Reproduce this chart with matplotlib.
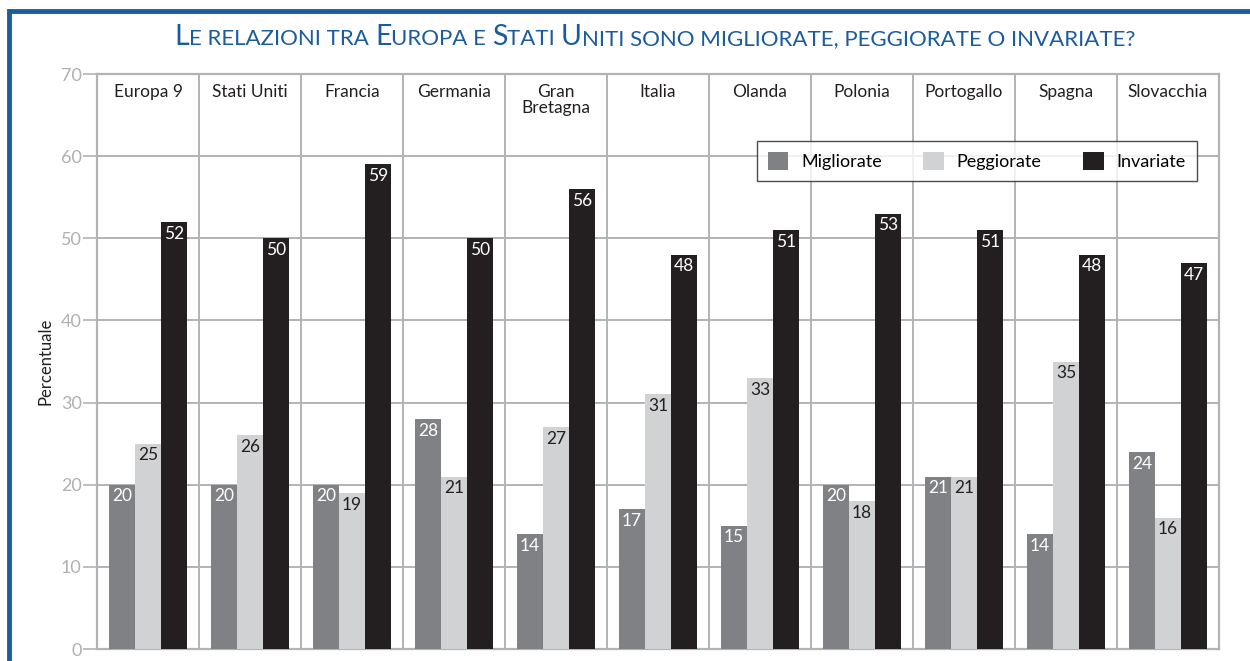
import matplotlib.pyplot as plt
import numpy as np
from matplotlib.patches import Rectangle, Patch

plt.rcParams['font.family'] = ['Lato', 'DejaVu Sans']

paesi = ["Europa 9", "Stati Uniti", "Francia", "Germania", "Gran\nBretagna",
         "Italia", "Olanda", "Polonia", "Portogallo", "Spagna", "Slovacchia"]
migliorate = [20, 20, 20, 28, 14, 17, 15, 20, 21, 14, 24]
peggiorate = [25, 26, 19, 21, 27, 31, 33, 18, 21, 35, 16]
invariate = [52, 50, 59, 50, 56, 48, 51, 53, 51, 48, 47]
serie = ["Migliorate", "Peggiorate", "Invariate"]
colori = ["#808184", "#d1d2d4", "#231f20"]
colori_testo = ["white", "#231f20", "white"]
yticks = [0, 10, 20, 30, 40, 50, 60, 70]

W, H = 1250, 661
fig = plt.figure(figsize=(12.5, 6.61), dpi=100)
ax = fig.add_axes([97 / W, 1 - 649 / H, 1122 / W, 575 / H])

grigio = "#b3b3b6"
x = np.arange(len(paesi))
w = 0.255
for k, (vals, col, tcol) in enumerate(zip([migliorate, peggiorate, invariate], colori, colori_testo)):
    pos = x + (k - 1) * w
    bars = ax.bar(pos, vals, width=w, color=col, zorder=3, linewidth=0)
    for b, v in zip(bars, vals):
        ax.text(b.get_x() + b.get_width() / 2, v - 0.45, str(v), ha='center', va='top',
                color=tcol, fontsize=12.5, zorder=4)

ax.set_xlim(-0.5, len(paesi) - 0.5)
ax.set_ylim(0, 70)
ax.set_yticks(yticks)
ax.set_xticks([])
for y in yticks[1:]:
    ax.axhline(y, color=grigio, lw=1.4, zorder=1)
for i in range(len(paesi) - 1):
    ax.axvline(i + 0.5, color=grigio, lw=1.4, zorder=1)
for s in ax.spines.values():
    s.set_color(grigio)
    s.set_linewidth(1.6)
ax.tick_params(axis='y', length=10, width=1.2, color=grigio, labelcolor="#b0b0b0",
               labelsize=13, pad=1)
ax.set_ylabel("Percentuale", fontsize=12, color="#231f20", labelpad=5)

for i, p in enumerate(paesi):
    ax.text(i, 68.8, p, ha='center', va='top', fontsize=12.5, color="#231f20",
            linespacing=1.0, zorder=5)

handles = [Patch(facecolor=c, edgecolor='none') for c in colori]
leg = ax.legend(handles, serie, loc='center', bbox_to_anchor=(0.784, 0.849), ncol=3,
                fontsize=13, frameon=True, fancybox=False, handlelength=1.15,
                handleheight=1.15, handletextpad=0.7, columnspacing=2.3,
                borderpad=0.6, borderaxespad=0)
leg.get_frame().set_edgecolor("#231f20")
leg.get_frame().set_linewidth(1.0)
leg.set_zorder(6)

# cornice blu
fig.patches.append(Rectangle((8.5 / W, -0.1), 1.2, 1 - 10.5 / H + 0.1, transform=fig.transFigure,
                             fill=False, edgecolor="#1b5c9e", linewidth=3.5))

# titolo in maiuscoletto
blu = "#1b5c9e"
pezzi = [("L", 20.5), ("E RELAZIONI TRA ", 16), ("E", 20.5), ("UROPA E ", 16), ("S", 20.5),
         ("TATI ", 16), ("U", 20.5), ("NITI SONO MIGLIORATE, PEGGIORATE O INVARIATE?", 16)]
renderer = fig.canvas.get_renderer()
testi = []
for s, fs in pezzi:
    t = fig.text(0, 1 - 45 / H, s, fontsize=fs, color=blu, ha='left', va='baseline')
    testi.append(t)
larghezze = [t.get_window_extent(renderer).width for t in testi]
x0 = 655 - sum(larghezze) / 2
for t, lw in zip(testi, larghezze):
    t.set_x(x0 / W)
    x0 += lw

fig.savefig("out.png", dpi=100)
